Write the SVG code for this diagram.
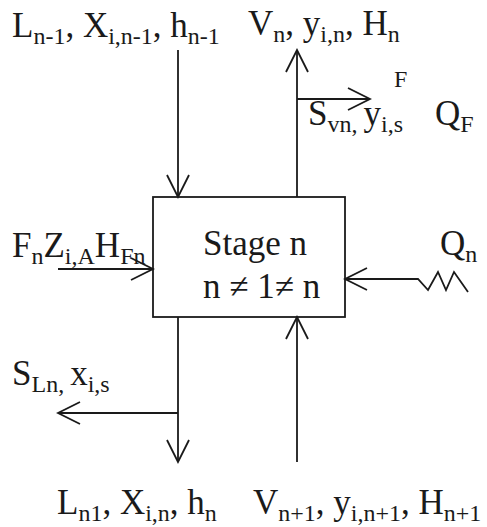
<svg xmlns="http://www.w3.org/2000/svg" width="487" height="527" viewBox="0 0 487 527">
<style>
.t{font-family:"Liberation Serif","Times New Roman",serif;font-size:35px;fill:#1a1a1a}
.s{font-size:24px}
.ln{fill:none;stroke:#1a1a1a;stroke-width:1.8}
</style>
<defs>
<marker id="ah" viewBox="-25 -13 27 26" refX="0" refY="0" markerWidth="27" markerHeight="26" markerUnits="userSpaceOnUse" orient="auto">
<path d="M-22,-11 L0,0 L-22,11" fill="none" stroke="#1a1a1a" stroke-width="1.8"/>
</marker>
</defs>
<rect width="487" height="527" fill="#fff"/>
<g id="connectors">
<path class="ln" d="M178,50 L178,197" marker-end="url(#ah)"/>
<path class="ln" d="M178,317 L178,462" marker-end="url(#ah)"/>
<path class="ln" d="M178,413 L58,413" marker-end="url(#ah)"/>
<path class="ln" d="M297,197 L297,50" marker-end="url(#ah)"/>
<path class="ln" d="M297,99 L370,99" marker-end="url(#ah)"/>
<path class="ln" d="M297,462 L297,317" marker-end="url(#ah)"/>
<path class="ln" d="M58,269 L153,269" marker-end="url(#ah)"/>
<path class="ln" d="M468,292 L454,272 L446,290 L438,272 L428,290 L418,279 L345,279" marker-end="url(#ah)"/>
</g>
<g id="stage">
<rect x="153" y="197" width="192" height="120" class="ln"/>
<text class="t" x="203" y="255">Stage n</text>
<text class="t" x="203" y="298">n ≠ 1≠ n</text>
</g>
<g id="labels">
<text class="t" x="12" y="37">L<tspan class="s" dy="7">n-1</tspan><tspan dy="-7">, X</tspan><tspan class="s" dy="7">i,n-1</tspan><tspan dy="-7">, h</tspan><tspan class="s" dy="7">n-1</tspan></text>
<text class="t" x="248" y="35">V<tspan class="s" dy="7">n</tspan><tspan dy="-7">, y</tspan><tspan class="s" dy="7">i,n</tspan><tspan dy="-7">, H</tspan><tspan class="s" dy="7">n</tspan></text>
<text class="t s" x="394" y="87">F</text>
<text class="t" x="308" y="125">S<tspan class="s" dy="7">vn, </tspan><tspan dy="-7">y</tspan><tspan class="s" dy="7">i,s</tspan></text>
<text class="t" x="435" y="125">Q<tspan class="s" dy="7">F</tspan></text>
<text class="t" x="12" y="257">F<tspan class="s" dy="7">n</tspan><tspan dy="-7">Z</tspan><tspan class="s" dy="7">i,A</tspan><tspan dy="-7">H</tspan><tspan class="s" dy="7">Fn</tspan></text>
<text class="t" x="440" y="255">Q<tspan class="s" dy="7">n</tspan></text>
<text class="t" x="12" y="385">S<tspan class="s" dy="7">Ln, </tspan><tspan dy="-7">x</tspan><tspan class="s" dy="7">i,s</tspan></text>
<text class="t" x="57" y="514">L<tspan class="s" dy="7">n1</tspan><tspan dy="-7">, X</tspan><tspan class="s" dy="7">i,n</tspan><tspan dy="-7">, h</tspan><tspan class="s" dy="7">n</tspan></text>
<text class="t" x="253" y="514">V<tspan class="s" dy="7">n+1</tspan><tspan dy="-7">, y</tspan><tspan class="s" dy="7">i,n+1</tspan><tspan dy="-7">, H</tspan><tspan class="s" dy="7">n+1</tspan></text>
</g>
</svg>
